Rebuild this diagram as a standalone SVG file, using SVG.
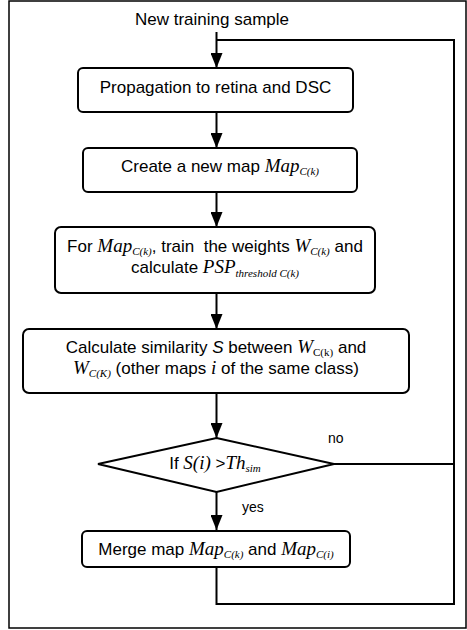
<svg xmlns="http://www.w3.org/2000/svg" width="467" height="630" viewBox="0 0 467 630">
<style>
.box{fill:#fff;stroke:#000;stroke-width:2}
.ln{fill:none;stroke:#000;stroke-width:2}
.t{font-family:"Liberation Sans",Arial,sans-serif;font-size:17px;fill:#000}
.m{font-family:"Liberation Serif","Times New Roman",serif;font-style:italic;font-size:19px}
.s{font-family:"Liberation Serif","Times New Roman",serif;font-style:italic;font-size:11px}
.su{font-family:"Liberation Serif","Times New Roman",serif;font-size:11px}
.lb{font-family:"Liberation Sans",Arial,sans-serif;font-size:14px;fill:#000}
</style>
<defs>
<marker id="ah" markerWidth="15" markerHeight="12" refX="15" refY="6" orient="auto" markerUnits="userSpaceOnUse">
<path d="M0,0 L15,6 L0,12 Z" fill="#000"/>
</marker>
</defs>
<rect x="9" y="1" width="457" height="627" fill="#fff" stroke="#000" stroke-width="1.5"/>
<g id="connectors">
<line class="ln" x1="216.5" y1="32" x2="216.5" y2="68" marker-end="url(#ah)"/>
<line class="ln" x1="216.5" y1="112" x2="216.5" y2="148" marker-end="url(#ah)"/>
<line class="ln" x1="216.5" y1="192" x2="216.5" y2="227" marker-end="url(#ah)"/>
<line class="ln" x1="216.5" y1="293" x2="216.5" y2="329" marker-end="url(#ah)"/>
<line class="ln" x1="216.5" y1="393" x2="216.5" y2="438" marker-end="url(#ah)"/>
<line class="ln" x1="216.5" y1="492" x2="216.5" y2="530" marker-end="url(#ah)"/>
<polyline class="ln" points="333,464 454,464"/>
<polyline class="ln" points="216.5,567 216.5,604 454,604 454,40 216.5,40"/>
<text class="lb" x="328" y="443">no</text>
<text class="lb" x="242" y="512">yes</text>
</g>
<g id="start">
<text class="t" x="212" y="25" text-anchor="middle">New training sample</text>
</g>
<g id="n1">
<rect class="box" x="78" y="68" width="275" height="44" rx="5"/>
<text class="t" x="215.5" y="93" text-anchor="middle">Propagation to retina and DSC</text>
</g>
<g id="n2">
<rect class="box" x="83" y="148" width="274" height="44" rx="5"/>
<text class="t" x="220" y="172" text-anchor="middle">Create a new map <tspan class="m">Map</tspan><tspan class="s" dy="3">C(k)</tspan></text>
</g>
<g id="n3">
<rect class="box" x="55" y="227" width="320" height="66" rx="6"/>
<text class="t" x="215" y="252" text-anchor="middle" xml:space="preserve">For <tspan class="m">Map</tspan><tspan class="s" dy="3">C(k)</tspan><tspan dy="-3">, train  the weights </tspan><tspan class="m">W</tspan><tspan class="s" dy="3">C(k)</tspan><tspan dy="-3"> and</tspan></text>
<text class="t" x="215" y="273" text-anchor="middle">calculate <tspan class="m">PSP</tspan><tspan class="s" dy="4">threshold C(k)</tspan></text>
</g>
<g id="n4">
<rect class="box" x="23" y="329" width="386" height="64" rx="6"/>
<text class="t" x="216" y="353" text-anchor="middle">Calculate similarity <tspan font-style="italic">S</tspan> between <tspan class="m">W</tspan><tspan class="su" dy="3">C(k)</tspan><tspan dy="-3"> and</tspan></text>
<text class="t" x="216" y="374" text-anchor="middle"><tspan class="m">W</tspan><tspan class="s" dy="3">C(K)</tspan><tspan dy="-3"> (other maps </tspan><tspan class="m">i</tspan> of the same class)</text>
</g>
<g id="n5">
<polygon class="box" points="216.5,438 334,464 216.5,492 98,464"/>
<text class="t" x="215" y="469" text-anchor="middle">If <tspan class="m">S(i)</tspan> &gt;<tspan class="m">Th</tspan><tspan class="s" dy="3">sim</tspan></text>
</g>
<g id="n6">
<rect class="box" x="82" y="531" width="268" height="36" rx="5"/>
<text class="t" x="216" y="555" text-anchor="middle">Merge map <tspan class="m">Map</tspan><tspan class="s" dy="3">C(k)</tspan><tspan dy="-3"> and </tspan><tspan class="m">Map</tspan><tspan class="s" dy="3">C(i)</tspan></text>
</g>
</svg>
